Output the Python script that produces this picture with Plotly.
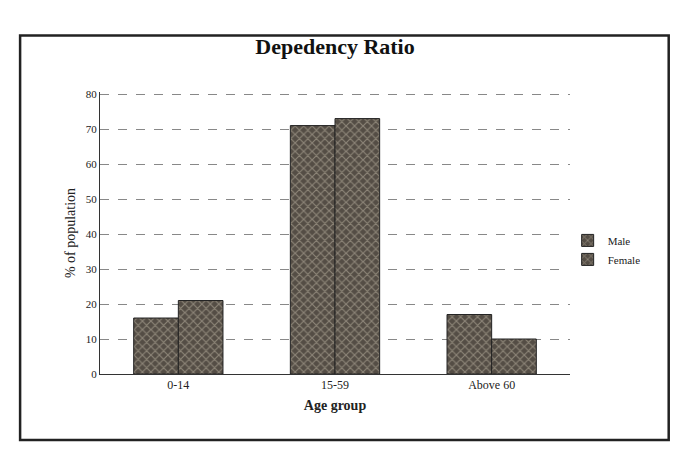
import plotly.graph_objects as go

categories = ["0-14", "15-59", "Above 60"]
male = [16, 71, 17]
female = [21, 73, 10]
y_ticks = [0, 10, 20, 30, 40, 50, 60, 70, 80]

fig = go.Figure()
for name, vals in [("Male", male), ("Female", female)]:
    fig.add_trace(go.Bar(
        x=categories, y=vals, name=name,
        marker=dict(color="#544d45", line=dict(color="#222", width=1),
                    pattern=dict(shape="x", fgcolor="#c4bba9", size=6, solidity=0.35)),
    ))

font_family = "Liberation Serif, DejaVu Serif, serif"
fig.update_layout(
    width=675, height=449,
    margin=dict(l=92, r=113, t=84, b=83),
    paper_bgcolor="white", plot_bgcolor="white",
    barmode="group", bargap=0.43, bargroupgap=0,
    title=dict(text="<b>Depedency Ratio</b>", x=0.5, xref="paper", y=0.915, yanchor="middle",
               font=dict(family=font_family, size=22, color="#111")),
    font=dict(family=font_family, color="#222"),
    legend=dict(x=0.995, y=0.44, yanchor="middle", xanchor="left",
                font=dict(size=11, family=font_family), itemwidth=30,
                tracegroupgap=0),
    showlegend=True,
)
fig.update_xaxes(showline=True, linecolor="#333", linewidth=1,
                 title=dict(text="<b>Age group</b>", font=dict(size=14), standoff=8),
                 tickfont=dict(size=12), ticks="")
fig.update_yaxes(range=[0, 80.6], tickvals=y_ticks, showline=True, linecolor="#333", linewidth=1,
                 showgrid=True, gridcolor="#888", griddash="dash", gridwidth=1,
                 title=dict(text="% of population", font=dict(size=14), standoff=6),
                 tickfont=dict(size=11), ticks="", zeroline=False)
fig.add_shape(type="rect", xref="paper", yref="paper",
              x0=-0.17, x1=1.21, y0=-0.234, y1=1.2,
              line=dict(color="#222", width=2.5), layer="below")
fig.write_html("out.html")
